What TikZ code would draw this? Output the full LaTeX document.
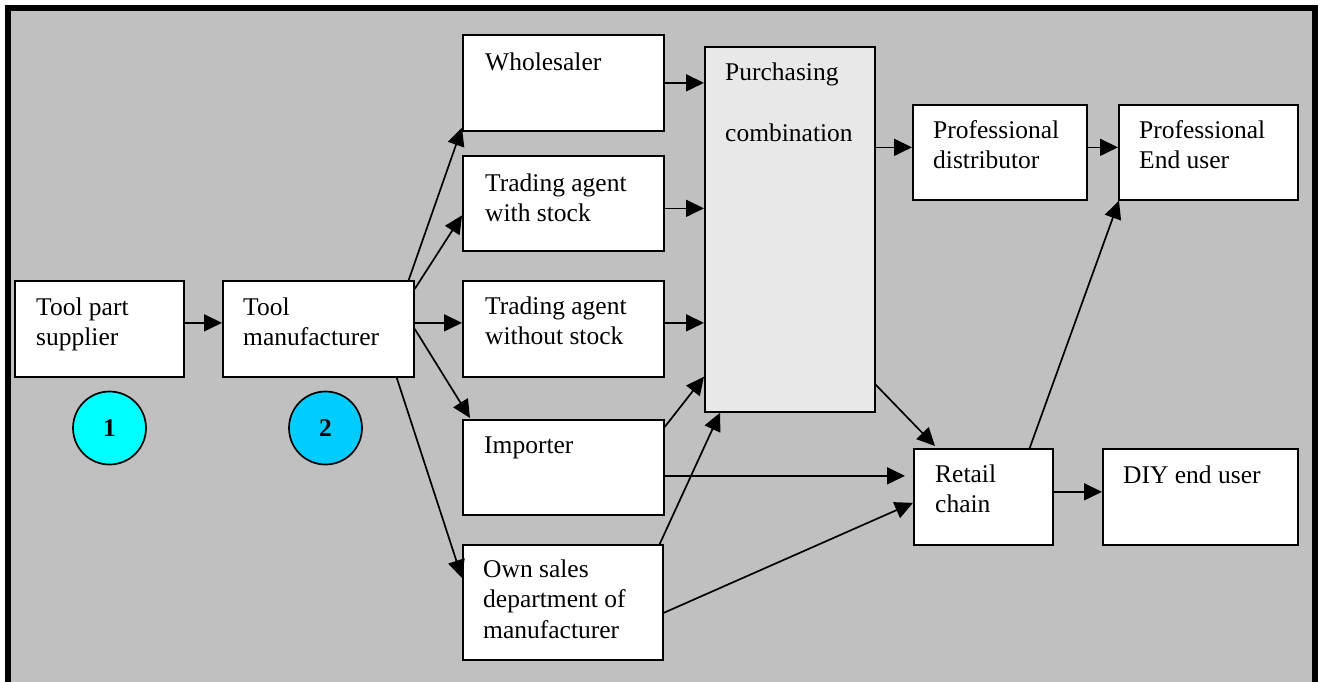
\documentclass[tikz,border=0pt]{standalone}
\usepackage{fontspec}
\setmainfont{Liberation Serif}
\usetikzlibrary{arrows.meta}
\definecolor{bggray}{HTML}{C0C0C0}
\definecolor{pcfill}{HTML}{E8E8E8}
\definecolor{circA}{HTML}{00FFFF}
\definecolor{circB}{HTML}{00CCFF}
\newcommand\lines[1]{\begin{tabular}[t]{@{}l@{}}#1\end{tabular}}
\tikzset{
  box/.style={draw=black, fill=white, line width=1.7pt, anchor=north west, inner sep=0pt},
  txt/.style={anchor=base west, inner sep=0pt,
    font=\fontsize{25.5}{30.5}\selectfont},
  arr/.style={line width=1.7pt, -{Triangle[length=18pt,width=17pt]}},
  num/.style={circle, draw=black, line width=1.7pt, minimum size=73pt, inner sep=0pt,
    font=\fontsize{25.5}{30}\selectfont\bfseries}
}
\begin{document}
\begin{tikzpicture}[x=1pt,y=-1pt]
\useasboundingbox (0,0) rectangle (1322,681);
\clip (0,0) rectangle (1322,681);
\fill[white] (0,0) rectangle (1322,681);
\fill[bggray] (8,8) rectangle (1315,700);
\draw[line width=6pt] (8,700) -- (8,8) -- (1315,8) -- (1315,700);

% boxes
\node[box, minimum width=169pt, minimum height=96pt] (tps) at (14,280) {};
\node[box, minimum width=191pt, minimum height=96pt] (tm) at (222,280) {};
\node[box, minimum width=201pt, minimum height=96pt] (ws) at (462,34) {};
\node[box, minimum width=201pt, minimum height=95pt] (tass) at (462,155) {};
\node[box, minimum width=201pt, minimum height=96pt] (taws) at (462,280) {};
\node[box, minimum width=201pt, minimum height=95pt] (imp) at (462,419) {};
\node[box, minimum width=200pt, minimum height=115pt] (own) at (462,544) {};
\node[box, fill=pcfill, minimum width=170pt, minimum height=365pt] (pc) at (704,46) {};
\node[box, minimum width=174pt, minimum height=95pt] (pd) at (912,104) {};
\node[box, minimum width=179pt, minimum height=95pt] (peu) at (1118,104) {};
\node[box, minimum width=139pt, minimum height=96pt] (rc) at (913,448) {};
\node[box, minimum width=195pt, minimum height=96pt] (diy) at (1102,448) {};

% texts
\node[txt] (tpsT) at (36,315) {\lines{Tool part\\supplier}};
\node[txt] (tmT) at (243,315) {\lines{Tool\\manufacturer}};
\node[txt] (wsT) at (485,70) {Wholesaler};
\node[txt] (tassT) at (485,191) {\lines{Trading agent\\with stock}};
\node[txt] (tawsT) at (485,314) {\lines{Trading agent\\without stock}};
\node[txt] (impT) at (484,453) {Importer};
\node[txt] (ownT) at (483,577) {\lines{Own sales\\department of\\manufacturer}};
\node[txt] (pcT) at (725,80) {\lines{Purchasing\\[31pt]combination}};
\node[txt] (pdT) at (933,138) {\lines{Professional\\distributor}};
\node[txt] (peuT) at (1139,138) {\lines{Professional\\End user}};
\node[txt] (rcT) at (935,482) {\lines{Retail\\chain}};
\node[txt] (diyT) at (1123,483) {DIY end user};

% circles
\node[num, fill=circA] (c1) at (109.5,428) {1};
\node[num, fill=circB] (c2) at (325.5,428) {2};

% connectors
\draw[arr] ([yshift=6pt]tps.east) -- ([yshift=6pt]tm.west);
\draw[arr] ([xshift=-6pt]tm.north east) -- ([yshift=4pt]ws.south west);
\draw[arr] ([yshift=-9pt]tm.north east) -- ([yshift=-12pt]tass.west);
\draw[arr] ([yshift=6pt]tm.east) -- ([yshift=6pt]taws.west);
\draw[arr] (tm.east) -- ([xshift=8pt,yshift=1pt]imp.north west);
\draw[arr] ([xshift=-18pt]tm.south east) -- ([yshift=-34pt]own.north west);
\draw[arr] (ws.east) -- (ws.east -| pc.west);
\draw[arr] ([yshift=-5pt]tass.east) -- ([yshift=-5pt]tass.east -| pc.west);
\draw[arr] ([yshift=6pt]taws.east) -- ([yshift=6pt]taws.east -| pc.west);
\draw[arr] ([yshift=-8pt]imp.north east) -- ([yshift=36pt]pc.south west);
\draw[arr] ([xshift=-4pt]own.north east) -- ([xshift=16pt]pc.south west);
\draw[arr] ([yshift=-8.5pt]imp.east) -- ([xshift=-8pt,yshift=-8.5pt]rc.west |- imp.east);
\draw[arr] ([yshift=-10.5pt]own.east) -- ([yshift=-6pt]rc.west);
\draw[arr] ([yshift=28pt]pc.south east) -- ([xshift=22pt,yshift=2pt]rc.north west);
\draw[arr] ([yshift=5pt]pd.west -| pc.east) -- ([yshift=5pt]pd.west);
\draw[arr] ([yshift=5pt]pd.east) -- ([yshift=5pt]peu.west);
\draw[arr] ([xshift=-24pt]rc.north east) -- ([xshift=1pt]peu.south west);
\draw[arr] ([yshift=5pt]rc.east) -- ([yshift=5pt]diy.west);
\end{tikzpicture}
\end{document}
